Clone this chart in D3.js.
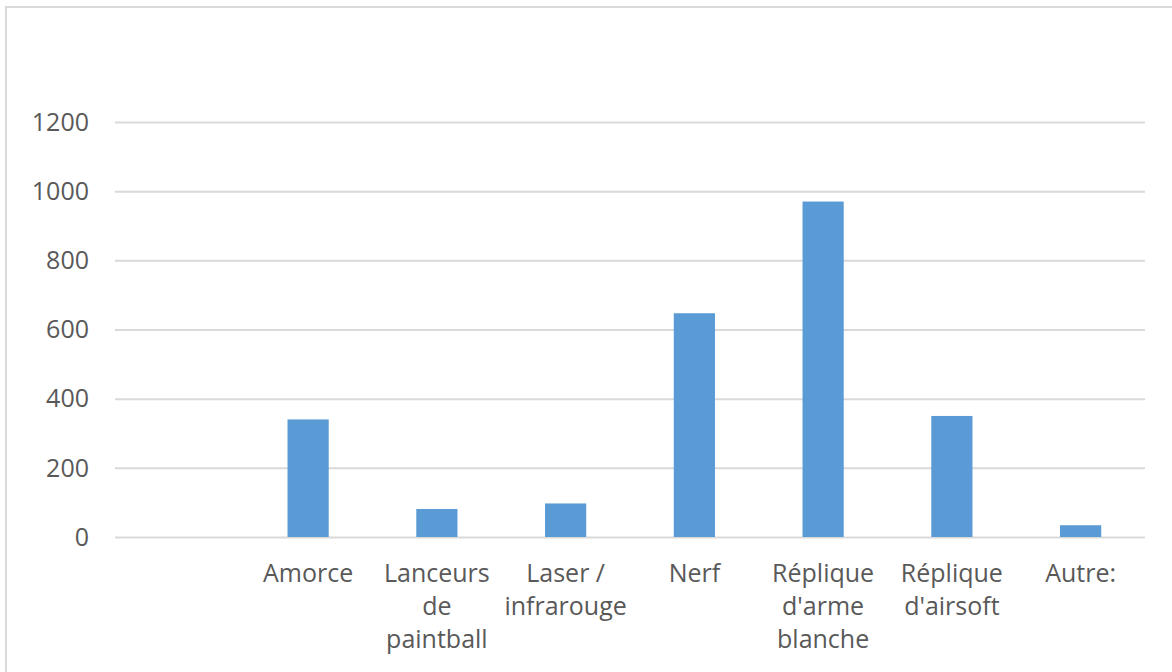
<!DOCTYPE html>
<html>
<head>
<meta charset="utf-8">
<script src="https://cdn.jsdelivr.net/npm/d3@7"></script>
<style>
  body { margin: 0; background: #fff; }
  #chart { width: 1172px; height: 672px; }
</style>
</head>
<body>
<div id="chart"></div>
<script>
// données
const categories = ["", "Amorce", "Lanceurs de paintball", "Laser / infrarouge", "Nerf",
  "Réplique d'arme blanche", "Réplique d'airsoft", "Autre:"];
const values = [null, 340, 81, 97, 647, 970, 350, 34];
const yTicks = [0, 200, 400, 600, 800, 1000, 1200];

const width = 1172, height = 672;
const margin = { left: 115, right: 27, top: 122, bottom: 135 };
const fontSize = 25;

const svg = d3.select("#chart").append("svg")
  .attr("width", width)
  .attr("height", height)
  .style("font-family", "'Open Sans', sans-serif");

// cadre du graphique
svg.append("path")
  .attr("d", `M6,${height} V7 H${width}`)
  .attr("fill", "none")
  .attr("stroke", "#d9d9d9")
  .attr("stroke-width", 2);

const x = d3.scaleBand()
  .domain(categories.map((d, i) => i))
  .range([margin.left, width - margin.right])
  .paddingInner(0.68)
  .paddingOuter(0.34);

const y = d3.scaleLinear()
  .domain([0, 1200])
  .range([height - margin.bottom, margin.top]);

// grille
const grid = svg.append("g")
  .attr("transform", `translate(${margin.left},0)`)
  .call(d3.axisLeft(y).tickValues(yTicks).tickSize(-(width - margin.left - margin.right)).tickFormat(""));
grid.select(".domain").remove();
grid.selectAll(".tick line").attr("stroke", "#d9d9d9").attr("stroke-width", 2);

// étiquettes de l'axe y
svg.append("g").selectAll("text")
  .data(yTicks)
  .join("text")
  .attr("x", 89)
  .attr("y", (d) => y(d))
  .attr("dy", "0.35em")
  .attr("text-anchor", "end")
  .attr("fill", "#595959")
  .attr("font-size", fontSize)
  .text((d) => d);

// barres
svg.append("g").selectAll("rect")
  .data(values.map((v, i) => ({ i, v })).filter((d) => d.v != null))
  .join("rect")
  .attr("x", (d) => x(d.i))
  .attr("width", x.bandwidth())
  .attr("y", (d) => y(d.v))
  .attr("height", (d) => y(0) - y(d.v))
  .attr("fill", "#5b9bd5");

// étiquettes des catégories (retour à la ligne selon la largeur)
const step = x.step();
const labels = svg.append("g").selectAll("text")
  .data(categories.map((c, i) => ({ c, i })))
  .join("text")
  .attr("text-anchor", "middle")
  .attr("fill", "#595959")
  .attr("font-size", fontSize);

labels.each(function (d) {
  const t = d3.select(this);
  const words = d.c.split(" ");
  const cx = x(d.i) + x.bandwidth() / 2;
  let lines = [];
  let line = [];
  const probe = t.append("tspan");
  words.forEach((w) => {
    line.push(w);
    probe.text(line.join(" "));
    if (probe.node().getComputedTextLength() > step - 4 && line.length > 1) {
      line.pop();
      lines.push(line.join(" "));
      line = [w];
    }
  });
  lines.push(line.join(" "));
  probe.remove();
  lines.forEach((l, k) => {
    t.append("tspan")
      .attr("x", cx)
      .attr("y", 582 + k * 33)
      .text(l);
  });
});
</script>
</body>
</html>
